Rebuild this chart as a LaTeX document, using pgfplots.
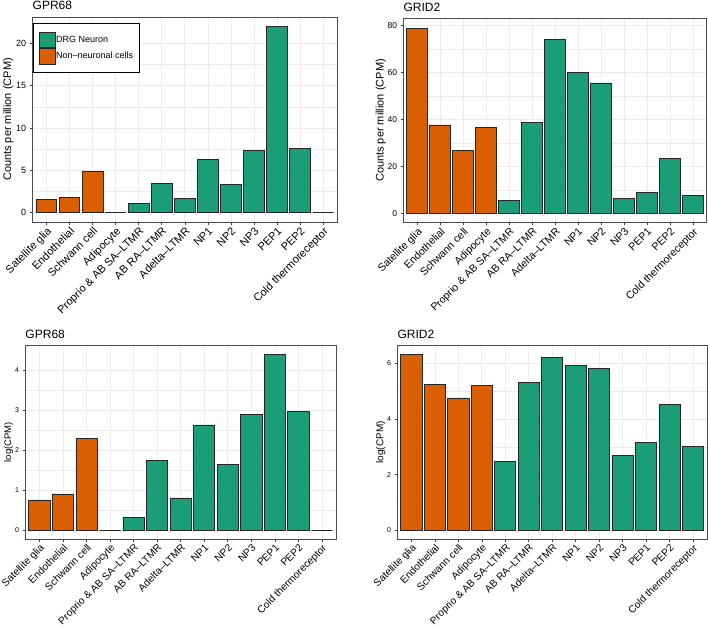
\documentclass[border=0pt]{standalone}
\usepackage{pgfplots}
\pgfplotsset{compat=1.18}
\usepackage{fontspec}
\setmainfont{Liberation Sans}
\definecolor{dorange}{HTML}{D95F02}
\definecolor{dgreen}{HTML}{1B9E77}
\definecolor{gridc}{HTML}{EBEBEB}
\pgfplotsset{
 panel/.style={
  scale only axis, anchor=south west,
  xmin=0.4, xmax=13.6,
  xtick={1,...,13},
  xticklabels={Satellite glia, Endothelial, Schwann cell, Adipocyte, Proprio \& AB SA--LTMR, AB RA--LTMR, Adelta--LTMR, NP1, NP2, NP3, PEP1, PEP2, Cold thermoreceptor},
  x tick label style={rotate=45, anchor=north east, inner sep=1pt, font=\fontsize{#1}{#1}\selectfont, black},
  ybar, bar width=0.9, bar shift=0pt,
  ymajorgrids, xmajorgrids, yminorgrids,
  major grid style={gridc, line width=0.6pt},
  minor grid style={gridc, line width=0.35pt},
  minor y tick num=1,
  tick align=outside, tick pos=left,
  major tick length=2.75pt, minor tick length=0pt,
  tick style={black!75, line width=0.5pt},
  axis line style={black!70, line width=0.7pt},
  /pgf/number format/assume math mode=true,
  title style={at={(axis description cs:0,1)}, anchor=base west, yshift=1pt, font=\fontsize{12}{12}\selectfont, inner sep=0pt},
  ylabel style={anchor=south, inner sep=0pt},
 },
 mybar/.style={fill=#1, draw=black!85, line width=0.7pt},
}
\begin{document}
\begin{tikzpicture}
\useasboundingbox (0,0) rectangle (708pt,629pt);
% Panel 1
\begin{axis}[panel=11, at={(32.5pt,407pt)}, width=304.5pt, height=205pt,
  ymin=-1.1, ymax=23.1, ytick={0,5,10,15,20},
  yticklabel style={font=\fontsize{9}{9}\selectfont, black},
  title={GPR68},
  ylabel={Counts per million (CPM)},
  ylabel style={at={(axis description cs:-0.0624,0.5)}, font=\fontsize{11}{11}\selectfont},
  legend style={at={(axis description cs:0.003,0.969)}, anchor=north west, draw=black, line width=0.6pt,
    inner xsep=5.5pt, inner ysep=8pt, row sep=0pt, font=\fontsize{9}{10}\selectfont,
    nodes={inner sep=0.6pt}},
  legend cell align=left,
  /tikz/every even column/.append style={column sep=6pt},
]
\addlegendimage{legend image code/.code={\draw[fill=dgreen, draw=black!85, line width=0.7pt] (0pt,-7.8pt) rectangle (15.5pt,7.8pt);}}
\addlegendentry{DRG Neuron}
\addlegendimage{legend image code/.code={\draw[fill=dorange, draw=black!85, line width=0.7pt] (0pt,-7.8pt) rectangle (15.5pt,7.8pt);}}
\addlegendentry{Non--neuronal cells}
\addplot[mybar=dorange, forget plot] coordinates {(1,1.6) (2,1.84) (3,4.9) (4,0)};
\addplot[mybar=dgreen, forget plot] coordinates {(5,1.1) (6,3.5) (7,1.72) (8,6.3) (9,3.29) (10,7.36) (11,21.95) (12,7.63) (13,0)};
\end{axis}
% Panel 2
\begin{axis}[panel=10.6, at={(403.3pt,406.3pt)}, width=303.4pt, height=204.4pt,
  ymin=-3.95, ymax=82.95, ytick={0,20,40,60,80},
  yticklabel style={font=\fontsize{8.5}{8.5}\selectfont, black},
  title={GRID2},
  ylabel={Counts per million (CPM)},
  ylabel style={at={(axis description cs:-0.057,0.5)}, font=\fontsize{11}{11}\selectfont},
]
\addplot[mybar=dorange] coordinates {(1,78.8) (2,37.6) (3,26.9) (4,36.7)};
\addplot[mybar=dgreen] coordinates {(5,5.6) (6,38.6) (7,73.8) (8,60.0) (9,55.5) (10,6.2) (11,8.75) (12,23.4) (13,7.7)};
\end{axis}
% Panel 3
\begin{axis}[panel=10.2, at={(25.3pt,90pt)}, width=310.7pt, height=193.7pt,
  ymin=-0.22, ymax=4.62, ytick={0,1,2,3,4},
  yticklabel style={font=\fontsize{7}{7}\selectfont, black},
  title={GPR68},
  ylabel={log(CPM)},
  ylabel style={at={(axis description cs:-0.0386,0.5)}, font=\fontsize{9.5}{9.5}\selectfont},
]
\addplot[mybar=dorange] coordinates {(1,0.755) (2,0.905) (3,2.29) (4,0)};
\addplot[mybar=dgreen] coordinates {(5,0.32) (6,1.74) (7,0.805) (8,2.63) (9,1.64) (10,2.89) (11,4.39) (12,2.96) (13,0)};
\end{axis}
% Panel 4
\begin{axis}[panel=10.2, at={(397.3pt,90pt)}, width=309.7pt, height=193.3pt,
  ymin=-0.316, ymax=6.636, ytick={0,2,4,6},
  yticklabel style={font=\fontsize{7}{7}\selectfont, black},
  title={GRID2},
  ylabel={log(CPM)},
  ylabel style={at={(axis description cs:-0.0375,0.5)}, font=\fontsize{10}{10}\selectfont},
]
\addplot[mybar=dorange] coordinates {(1,6.32) (2,5.25) (3,4.76) (4,5.21)};
\addplot[mybar=dgreen] coordinates {(5,2.46) (6,5.3) (7,6.2) (8,5.93) (9,5.83) (10,2.7) (11,3.16) (12,4.53) (13,3.0)};
\end{axis}
\end{tikzpicture}
\end{document}
